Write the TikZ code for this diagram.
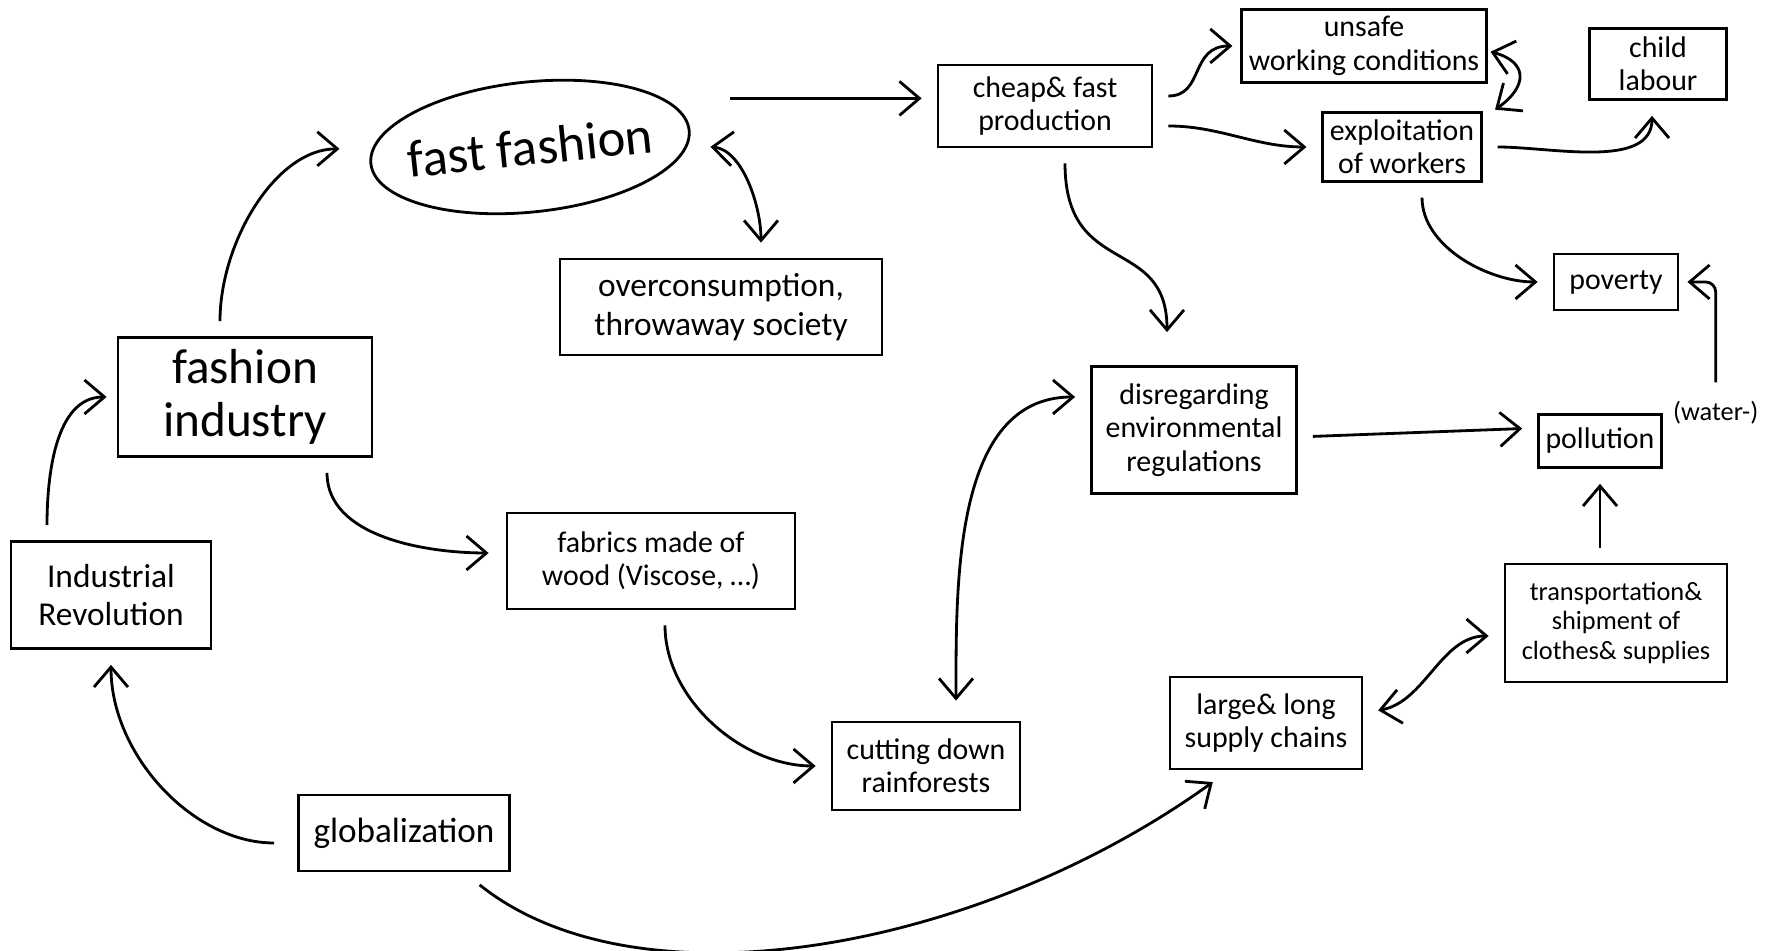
\documentclass[tikz,border=0pt]{standalone}
\usepackage{fontspec}
\setmainfont{Carlito}
\usetikzlibrary{arrows.meta, positioning, shapes.geometric}

\begin{document}
\begin{tikzpicture}[
    topic/.style={rectangle, draw=black, line width=0.8pt, align=center, font=\fontsize{8.5}{9.5}\selectfont, inner sep=2pt},
    bigtopic/.style={topic, font=\fontsize{14}{15}\selectfont},
    arrow/.style={-{Straight Barb[length=2mm, width=3.4mm]}, line width=0.8pt, shorten >=1.5mm, shorten <=1.5mm},
    twoway/.style={{Straight Barb[length=2mm, width=3.4mm]}-{Straight Barb[length=2mm, width=3.4mm]}, line width=0.8pt, shorten >=1.5mm, shorten <=1.5mm}
]

\useasboundingbox (0,0) rectangle (17.68,9.51);

% ==== Main topics ====
\node[ellipse, draw=black, line width=0.8pt, rotate=6, minimum width=3.2cm, minimum height=1.3cm, inner xsep=-5mm, inner ysep=0pt, font=\fontsize{15}{16}\selectfont] (fastfashion) at (5.30,8.04) {fast fashion};
\node[bigtopic, minimum width=2.54cm, minimum height=1.19cm] (fashind) at (2.45,5.54) {fashion\\industry};
\node[topic, minimum width=2.0cm, minimum height=1.07cm, font=\fontsize{9.5}{11}\selectfont] (indrev) at (1.11,3.56) {Industrial\\Revolution};
\node[topic, minimum width=2.11cm, minimum height=0.76cm, font=\fontsize{10}{11}\selectfont] (global) at (4.04,1.18) {globalization};

% ==== Production side ====
\node[topic, minimum width=2.14cm, minimum height=0.82cm] (cheap) at (10.45,8.45) {cheap\& fast\\production};
\node[topic, minimum width=2.40cm, minimum height=0.70cm] (unsafe) at (13.64,9.05) {unsafe\\working conditions};
\node[topic, minimum width=1.58cm, minimum height=0.67cm] (exploit) at (14.02,8.04) {exploitation\\of workers};
\node[topic, minimum width=1.37cm, minimum height=0.71cm] (child) at (16.58,8.87) {child\\labour};
\node[topic, minimum width=1.24cm, minimum height=0.56cm] (poverty) at (16.16,6.69) {poverty};
\node[topic, minimum width=3.22cm, minimum height=0.96cm, font=\fontsize{9.5}{11}\selectfont] (overcons) at (7.21,6.44) {overconsumption,\\throwaway society};

% ==== Environment side ====
\node[topic, minimum width=2.05cm, minimum height=1.27cm] (disreg) at (11.94,5.21) {disregarding\\environmental\\regulations};
\node[topic, minimum width=1.21cm, minimum height=0.53cm] (pollution) at (16.00,5.10) {pollution};
\node[font=\fontsize{7.5}{8.5}\selectfont, inner sep=1pt, right=0.06cm of pollution.north east] (water) {(water-)};
\node[topic, minimum width=2.88cm, minimum height=0.96cm] (fabrics) at (6.51,3.90) {fabrics made of\\wood (Viscose, \dots)};
\node[topic, minimum width=1.88cm, minimum height=0.88cm] (cutting) at (9.26,1.85) {cutting down\\rainforests};
\node[topic, minimum width=1.92cm, minimum height=0.92cm] (supply) at (12.66,2.28) {large\& long\\supply chains};
\node[topic, minimum width=2.22cm, minimum height=1.18cm, font=\fontsize{7.5}{8.5}\selectfont] (transport) at (16.16,3.28) {transportation\&\\shipment of\\clothes\& supplies};

% ==== Arrows ====
\draw[arrow, shorten <=3.9mm] (fastfashion.east |- cheap.176) -- (cheap.176);
\draw[twoway, shorten <=2mm] ([yshift=-1.5mm]fastfashion.east) to[out=-5, in=90] ([xshift=4mm]overcons.north);
\draw[arrow, shorten >=0.8mm] ([yshift=1mm]cheap.east) to[out=0, in=180, looseness=1.3] (unsafe.west);
\draw[arrow] ([yshift=-2mm]cheap.east) to[out=0, in=180] (exploit.west);
\draw[twoway, shorten <=0.3mm, shorten >=0.3mm] ([yshift=-0.5mm]unsafe.east) to[out=-15, in=35, looseness=1.8] ([xshift=1mm]exploit.north east);
\draw[arrow] (exploit.east) to[out=0, in=-90] ([xshift=-0.6mm]child.south);
\draw[arrow] ([xshift=2mm]exploit.south) to[out=-90, in=180] (poverty.west);
\draw[arrow, shorten >=3.3mm] ([xshift=2mm]cheap.south) to[out=-90, in=90, looseness=1.4] ([xshift=-2.7mm]disreg.north);
\draw[arrow, rounded corners=1mm, shorten >=0.8mm] (water.north) |- (poverty.east);
\draw[arrow] ([yshift=-0.7mm]disreg.east) -- ([yshift=1.3mm]pollution.west);
\draw[arrow] (transport.north -| pollution.south) -- (pollution.south);
\draw[twoway] ([yshift=1mm]supply.east) to[out=10, in=180] ([yshift=-1.3mm]transport.west);
\draw[arrow, shorten <=2mm, shorten >=2mm] ([xshift=6mm]global.south) .. controls +(1.75,-1.4) and +(-2.5,-1.8) .. ([xshift=-3.7mm]supply.south);
\draw[arrow, shorten <=2.3mm] ([yshift=-1mm]global.west) to[out=180, in=-90] (indrev.south);
\draw[arrow, shorten >=1mm] ([xshift=-6.4mm]indrev.north) to[out=90, in=180] (fashind.west);
\draw[arrow, shorten >=3mm] ([xshift=-2.5mm]fashind.north) to[out=90, in=180] ([yshift=1.5mm]fastfashion.west);
\draw[arrow, shorten >=1.7mm] ([xshift=8.2mm]fashind.south) to[out=-90, in=180] ([yshift=0.8mm]fabrics.west);
\draw[arrow] ([xshift=1.4mm]fabrics.south) to[out=-90, in=180] (cutting.west);
\draw[twoway, shorten <=2mm] ([xshift=3mm]cutting.north) to[out=90, in=180] ([yshift=3.3mm]disreg.west);

\end{tikzpicture}
\end{document}
